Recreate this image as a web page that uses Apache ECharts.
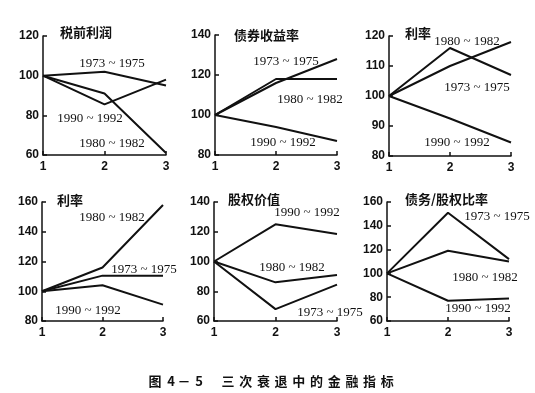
<!DOCTYPE html>
<html><head><meta charset="utf-8">
<script src="https://cdn.jsdelivr.net/npm/echarts@6/dist/echarts.min.js"></script>
<style>html,body{margin:0;padding:0;background:#fff}#c{width:535px;height:393px}</style>
</head><body><div id="c"></div>
<script>
// ---- data ----
const xCats = [1, 2, 3];
const periods = ['1973 ~ 1975', '1980 ~ 1982', '1990 ~ 1992'];
const panelTitles = ['税前利润', '债券收益率', '利率', '利率', '股权价值', '债务/股权比率'];
const captionLead = ['图', '4', '－', '5'];
const captionText = '三次衰退中的金融指标';
// values per panel: [1973-75, 1980-82, 1990-92]
const profit = [[100, 102, 95], [100, 91, 61], [100, 85.5, 98]];
const bondYield = [[100, 116, 128], [100, 118, 118], [100, 94, 87]];
const rateA = [[100, 110, 118], [100, 116, 107], [100, 92.5, 84.5]];
const rateB = [[100, 110.5, 110.5], [100, 116, 158], [100, 104, 91]];
const equity = [[100, 68, 84.5], [100, 86, 91], [100, 125, 118.5]];
const debtEquity = [[100, 151, 112], [100, 119, 110], [100, 77, 79]];
const yMin = [60, 80, 80, 80, 60, 60];
const yMax = [120, 140, 120, 160, 140, 160];
const yStep = [20, 20, 10, 20, 20, 20];

// ---- layout ----
const panelData = [profit, bondYield, rateA, rateB, equity, debtEquity];
const grids = [
  {left: 43, top: 36, width: 123, height: 119},
  {left: 215, top: 35, width: 122, height: 120},
  {left: 389, top: 36, width: 122, height: 120},
  {left: 42, top: 202, width: 121, height: 119},
  {left: 214, top: 202, width: 123, height: 119},
  {left: 387, top: 202, width: 122, height: 119}
];
const titlePos = [[60, 32], [234, 35], [405, 33], [57, 200], [228, 199], [405, 199]];
// label centre positions per panel in order of periods
const labelPos = [
  [[112, 64], [112, 144], [90, 119]],
  [[286, 62], [310, 100], [283, 143]],
  [[477, 88], [467, 42], [457, 143]],
  [[144, 270], [112, 218], [88, 311]],
  [[330, 313], [292, 268], [307, 213]],
  [[497, 217], [485, 278], [478, 309]]
];
const leadX = [155, 171, 184, 199];
const captionX0 = 228, captionPitch = 17.7, captionY = 381;

const chart = echarts.init(document.getElementById('c'));
const xAxis = [], yAxis = [], series = [], graphic = [];
const axisFont = {color: '#111', fontFamily: 'Liberation Sans, Arial', fontWeight: 'bold', fontSize: 12};
grids.forEach((g, i) => {
  xAxis.push({type: 'value', gridIndex: i, min: 1, max: 3, interval: 1,
    axisLine: {lineStyle: {color: '#111', width: 1.5}},
    axisTick: {inside: true, length: 4, lineStyle: {color: '#111', width: 1.5}},
    axisLabel: Object.assign({margin: 6}, axisFont),
    splitLine: {show: false}});
  yAxis.push({type: 'value', gridIndex: i, min: yMin[i], max: yMax[i], interval: yStep[i],
    axisLine: {show: true, lineStyle: {color: '#111', width: 1.5}},
    axisTick: {show: true, inside: true, length: 4, lineStyle: {color: '#111', width: 1.5}},
    axisLabel: Object.assign({margin: 4}, axisFont),
    splitLine: {show: false}});
  panelData[i].forEach((vals, k) => {
    series.push({type: 'line', name: periods[k], xAxisIndex: i, yAxisIndex: i,
      data: vals.map((v, j) => [xCats[j], v]), symbol: 'none', silent: true,
      lineStyle: {color: '#111', width: 2}});
    graphic.push({type: 'text', x: labelPos[i][k][0], y: labelPos[i][k][1],
      style: {text: periods[k], fill: '#111', font: '13px "Liberation Serif", "Times New Roman", serif',
        textAlign: 'center', textVerticalAlign: 'middle'}});
  });
  graphic.push({type: 'text', x: titlePos[i][0], y: titlePos[i][1],
    style: {text: panelTitles[i], fill: '#111', font: 'bold 13px "Noto Sans CJK SC", sans-serif',
      textAlign: 'left', textVerticalAlign: 'middle'}});
});
const capFont = 'bold 13px "Noto Sans CJK SC", sans-serif';
captionLead.forEach((ch, j) => {
  graphic.push({type: 'text', x: leadX[j], y: captionY,
    style: {text: ch, fill: '#111', font: capFont, textAlign: 'center', textVerticalAlign: 'middle'}});
});
Array.from(captionText).forEach((ch, j) => {
  graphic.push({type: 'text', x: captionX0 + j * captionPitch, y: captionY,
    style: {text: ch, fill: '#111', font: capFont, textAlign: 'center', textVerticalAlign: 'middle'}});
});

chart.setOption({animation: false, grid: grids, xAxis, yAxis, series, graphic});
</script></body></html>
